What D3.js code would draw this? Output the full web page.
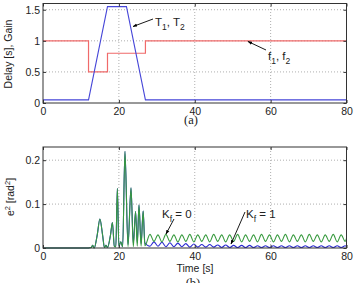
<!DOCTYPE html>
<html><head><meta charset="utf-8">
<script src="https://cdn.jsdelivr.net/npm/d3@7"></script>
<style>
body{margin:0;background:#fff;}
svg{display:block;font-family:"Liberation Sans",Arial,sans-serif;}
</style></head><body>
<svg id="c" width="354" height="283"></svg>
<script>
// ---- Data: panel (a)
const delayTime = [0, 12, 17, 22, 27, 80];
const delayValue = [0.05, 0.05, 1.55, 1.55, 0.05, 0.05];
const gainTime = [0, 12, 12, 17, 17, 27, 27, 80];
const gainValue = [1, 1, 0.5, 0.5, 0.8, 0.8, 1, 1];
const xTicksA = [0, 20, 40, 60, 80];
const yTicksA = [0, 0.5, 1, 1.5];

// ---- Data: panel (b)
const errTime = [0, 12, 12.7, 13.1, 13.5, 14.3, 15.0, 15.7, 16.2, 16.6, 17.0, 17.8, 18.3, 18.8, 19.2, 19.6, 20.0, 20.5, 21.0, 21.6, 22.4, 23.2, 23.8, 24.4, 24.85, 25.3, 25.85, 26.4, 26.85,
  28.2, 29.25, 30.3, 31.35, 32.4, 33.45, 34.5, 35.55, 36.6, 37.65, 38.7, 39.75, 40.8, 41.85, 42.9, 43.95, 45.0, 46.05, 47.1, 48.15, 49.2, 50.25, 51.3, 52.35, 53.4, 54.45, 55.5, 56.55, 57.6, 58.65, 59.7, 60.75, 61.8, 62.85, 63.9, 64.95, 66.0, 67.05, 68.1, 69.15, 70.2, 71.25, 72.3, 73.35, 74.4, 75.45, 76.5, 77.55, 78.6, 79.65, 80];
const errKf0 = [0, 0, 0.001, 0.006, 0.0, 0.03, 0.066, 0.03, 0.001, 0.006, 0.001, 0.03, 0.058, 0.004, 0.003, 0.136, 0.004, 0.014, 0.003, 0.22, 0.003, 0.137, 0.003, 0.083, 0.004, 0.098, 0.004, 0.084, 0.005,
  0.031, 0.015, 0.030, 0.014, 0.031, 0.015, 0.030, 0.014, 0.030, 0.015, 0.031, 0.014, 0.030, 0.015, 0.030, 0.014, 0.031, 0.015, 0.030, 0.014, 0.030, 0.015, 0.031, 0.014, 0.030, 0.015, 0.030, 0.014, 0.031, 0.015, 0.030, 0.014, 0.030, 0.015, 0.031, 0.014, 0.030, 0.015, 0.030, 0.014, 0.031, 0.015, 0.030, 0.014, 0.030, 0.015, 0.031, 0.014, 0.030, 0.015, 0.022];
const errKf1 = [0, 0, 0.001, 0.006, 0.0, 0.03, 0.066, 0.03, 0.001, 0.006, 0.001, 0.03, 0.058, 0.004, 0.003, 0.136, 0.004, 0.014, 0.003, 0.22, 0.008, 0.137, 0.010, 0.083, 0.012, 0.098, 0.010, 0.084, 0.012,
  0.004, 0.014, 0.004, 0.013, 0.003, 0.012, 0.003, 0.011, 0.003, 0.010, 0.002, 0.009, 0.002, 0.008, 0.002, 0.008, 0.002, 0.007, 0.001, 0.007, 0.001, 0.006, 0.001, 0.006, 0.001, 0.006, 0.001, 0.005, 0.001, 0.005, 0.001, 0.005, 0.001, 0.005, 0.001, 0.005, 0.001, 0.005, 0.001, 0.005, 0.001, 0.005, 0.001, 0.005, 0.001, 0.005, 0.001, 0.005, 0.001, 0.005, 0.003];
const xTicksB = [0, 20, 40, 60, 80];
const yTicksB = [0, 0.1, 0.2];

const svg = d3.select("#c");
const defs = svg.append("defs");
defs.append("marker").attr("id","arr").attr("viewBox","0 0 10 10").attr("refX",9).attr("refY",5)
  .attr("markerWidth",5).attr("markerHeight",5).attr("orient","auto")
  .append("path").attr("d","M0,1.5L10,5L0,8.5Z").attr("fill","#000");

function panel(x, y, xt, yt){
  const g = svg.append("g");
  const [x0,x1] = x.range(), [y0,y1] = y.range();
  g.selectAll(".gx").data(xt.slice(1,-1)).join("line")
    .attr("x1",d=>x(d)).attr("x2",d=>x(d)).attr("y1",y0).attr("y2",y1)
    .attr("stroke","#9a9a9a").attr("stroke-width",0.8).attr("stroke-dasharray","1,2");
  g.selectAll(".gy").data(yt.slice(1).filter(d=>y(d)>y1+2)).join("line")
    .attr("y1",d=>y(d)).attr("y2",d=>y(d)).attr("x1",x0).attr("x2",x1)
    .attr("stroke","#9a9a9a").attr("stroke-width",0.8).attr("stroke-dasharray","1,2");
  return g;
}
function axes(x, y, xt, yt, fmt){
  const [x0,x1] = x.range(), [y0,y1] = y.range();
  const ax = svg.append("g").attr("transform",`translate(0,${y0})`)
    .call(d3.axisBottom(x).tickValues(xt).tickSizeInner(-3).tickSizeOuter(0).tickPadding(5));
  const at = svg.append("g").attr("transform",`translate(0,${y1})`)
    .call(d3.axisTop(x).tickValues(xt).tickSizeInner(-3).tickSizeOuter(0).tickFormat(""));
  const ay = svg.append("g").attr("transform",`translate(${x0},0)`)
    .call(d3.axisLeft(y).tickValues(yt).tickSizeInner(-3).tickSizeOuter(0).tickPadding(3).tickFormat(fmt));
  const ar = svg.append("g").attr("transform",`translate(${x1},0)`)
    .call(d3.axisRight(y).tickValues(yt).tickSizeInner(-3).tickSizeOuter(0).tickFormat(""));
  [ax,at,ay,ar].forEach(a=>{
    a.select(".domain").remove();
    a.selectAll("line").attr("stroke","#333");
    a.selectAll("text").attr("font-size","10.5px").attr("fill","#222").attr("font-family","Liberation Sans, Arial, sans-serif");
  });
  svg.append("rect").attr("x",x0).attr("y",y1).attr("width",x1-x0).attr("height",y0-y1)
    .attr("fill","none").attr("stroke","#333").attr("stroke-width",1);
}

// ---- Panel (a)
const xA = d3.scaleLinear().domain([0,80]).range([43,346.5]);
const yA = d3.scaleLinear().domain([0,1.6]).range([103,3.5]);
panel(xA,yA,xTicksA,yTicksA);
const lineA = d3.line().x(d=>xA(d[0])).y(d=>yA(d[1]));
svg.append("path").attr("d",lineA(gainTime.map((t,i)=>[t,gainValue[i]])))
  .attr("fill","none").attr("stroke","#f06a6a").attr("stroke-width",1.2);
svg.append("path").attr("d",lineA(delayTime.map((t,i)=>[t,delayValue[i]])))
  .attr("fill","none").attr("stroke","#4646d8").attr("stroke-width",1.1);
axes(xA,yA,xTicksA,yTicksA,d=>d===0?"0":(d===1?"1":d3.format(".1f")(d)));

svg.append("text").attr("transform","translate(12,54) rotate(-90)").attr("text-anchor","middle")
  .attr("font-size","10.5px").attr("fill","#222").text("Delay [s], Gain");

// annotations (a)
svg.append("line").attr("x1",153).attr("y1",19).attr("x2",133).attr("y2",26.5)
  .attr("stroke","#000").attr("stroke-width",0.9).attr("marker-end","url(#arr)");
const tA = svg.append("text").attr("x",155).attr("y",26).attr("font-size","11.5px").attr("fill","#222");
tA.append("tspan").text("T");
tA.append("tspan").attr("dy",3.5).attr("font-size","8.5px").text("1");
tA.append("tspan").attr("dy",-3.5).text(", T");
tA.append("tspan").attr("dy",3.5).attr("font-size","8.5px").text("2");

svg.append("line").attr("x1",266).attr("y1",50).attr("x2",248).attr("y2",41.5)
  .attr("stroke","#000").attr("stroke-width",0.9).attr("marker-end","url(#arr)");
const fA = svg.append("text").attr("x",268).attr("y",60).attr("font-size","11.5px").attr("fill","#222");
fA.append("tspan").text("f");
fA.append("tspan").attr("dy",3.5).attr("font-size","8.5px").text("1");
fA.append("tspan").attr("dy",-3.5).text(", f");
fA.append("tspan").attr("dy",3.5).attr("font-size","8.5px").text("2");

svg.append("text").attr("x",191).attr("y",124).attr("text-anchor","middle")
  .attr("font-family","Liberation Serif, Times New Roman, serif").attr("font-size","12.5px").attr("fill","#222").text("(a)");

// ---- Panel (b)
const xB = d3.scaleLinear().domain([0,80]).range([43,346.5]);
const yB = d3.scaleLinear().domain([0,0.23]).range([248,147]);
panel(xB,yB,xTicksB,yTicksB);
const lineB = d3.line().x(d=>xB(d[0])).y(d=>yB(d[1])).curve(d3.curveMonotoneX);
svg.append("path").attr("d",lineB(errTime.map((t,i)=>[t,errKf1[i]])))
  .attr("fill","none").attr("stroke","#2a2ad0").attr("stroke-width",1.1);
svg.append("path").attr("d",lineB(errTime.map((t,i)=>[t,errKf0[i]])))
  .attr("fill","none").attr("stroke","#379a3e").attr("stroke-width",1.1);
axes(xB,yB,xTicksB,yTicksB,d=>d===0?"0":d3.format(".1f")(d));

const yl = svg.append("text").attr("transform","translate(14,197) rotate(-90)").attr("text-anchor","middle")
  .attr("font-size","10.5px").attr("fill","#222");
yl.append("tspan").text("e");
yl.append("tspan").attr("dy",-4).attr("font-size","7.5px").text("2");
yl.append("tspan").attr("dy",4).text(" [rad");
yl.append("tspan").attr("dy",-4).attr("font-size","7.5px").text("2");
yl.append("tspan").attr("dy",4).text("]");

svg.append("text").attr("x",195).attr("y",272).attr("text-anchor","middle")
  .attr("font-size","10.5px").attr("fill","#222").text("Time [s]");

svg.append("line").attr("x1",174).attr("y1",219).attr("x2",166).attr("y2",234)
  .attr("stroke","#000").attr("stroke-width",0.9).attr("marker-end","url(#arr)");
const k0 = svg.append("text").attr("x",162).attr("y",218).attr("font-size","11.5px").attr("fill","#222");
k0.append("tspan").text("K");
k0.append("tspan").attr("dy",3.5).attr("font-size","8.5px").text("f");
k0.append("tspan").attr("dy",-3.5).text(" = 0");

svg.append("line").attr("x1",245).attr("y1",212).attr("x2",231).attr("y2",244)
  .attr("stroke","#000").attr("stroke-width",0.9).attr("marker-end","url(#arr)");
const k1 = svg.append("text").attr("x",246).attr("y",218).attr("font-size","11.5px").attr("fill","#222");
k1.append("tspan").text("K");
k1.append("tspan").attr("dy",3.5).attr("font-size","8.5px").text("f");
k1.append("tspan").attr("dy",-3.5).text(" = 1");

svg.append("text").attr("x",193).attr("y",287).attr("text-anchor","middle")
  .attr("font-family","Liberation Serif, Times New Roman, serif").attr("font-size","12.5px").attr("fill","#222").text("(b)");
</script>
</body></html>
